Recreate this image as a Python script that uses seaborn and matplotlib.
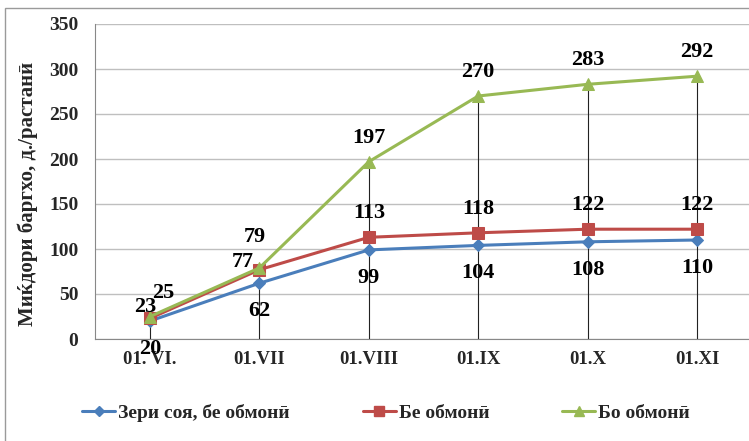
import matplotlib
matplotlib.use("Agg")
import matplotlib.pyplot as plt
import seaborn as sns
import pandas as pd
from matplotlib.patches import Rectangle
from matplotlib.lines import Line2D

# ---- data ----
categories = ["01. VI.", "01.VII", "01.VIII", "01.IX", "01.X", "01.XI"]
series_names = ["Зери соя, бе обмонӣ", "Бе обмонӣ", "Бо обмонӣ"]
soy_no_irrig = [20, 62, 99, 104, 108, 110]
no_irrig = [23, 77, 113, 118, 122, 122]
irrig = [25, 79, 197, 270, 283, 292]
y_label = "Миќдори баргхо, д./растанӣ"
y_ticks = [0, 50, 100, 150, 200, 250, 300, 350]

sns.set_theme(style="white")
plt.rcParams["font.family"] = ["Liberation Serif", "DejaVu Serif"]
plt.rcParams["font.weight"] = "bold"

colors = {series_names[0]: "#4A7EBB", series_names[1]: "#BE4B48", series_names[2]: "#98B954"}
markers = {series_names[0]: "D", series_names[1]: "s", series_names[2]: "^"}
msizes = {series_names[0]: 6.5, series_names[1]: 8.5, series_names[2]: 9}

rows = []
for name, vals in zip(series_names, [soy_no_irrig, no_irrig, irrig]):
    for i, v in enumerate(vals):
        rows.append({"x": i, "cat": categories[i], "value": v, "series": name})
df = pd.DataFrame(rows)

dpi = 100
fig = plt.figure(figsize=(7.49, 4.41), dpi=dpi)
W, H = 749, 441
ax = fig.add_axes([95 / W, 1 - 339 / H, (749 - 95) / W, (339 - 24) / H])

# figure border
fig.patches.append(Rectangle((5 / W, -0.05), 1.2, (441 - 8) / H + 0.05,
                             transform=fig.transFigure, fill=False,
                             edgecolor="#9a9a9a", linewidth=1.0, zorder=0))

# gridlines
for t in y_ticks:
    ax.axhline(t, color="#BFBFBF", linewidth=1.0, zorder=0)

# drop lines from top series
ax.vlines(range(len(categories)), 0, irrig, color="#222222", linewidth=0.8, zorder=1)

for name in series_names:
    sub = df[df["series"] == name]
    sns.lineplot(data=sub, x="x", y="value", ax=ax, color=colors[name],
                 marker=markers[name], markersize=msizes[name],
                 markeredgecolor=colors[name], linewidth=2.2, label=name,
                 zorder=3, legend=False)

# data labels (offsets in pixels)
offsets = {
    0: [(0, -28)] * 6,
    1: [(-5, 11), (-17, 8), (0, 24), (0, 24), (0, 24), (0, 24)],
    2: [(13, 24), (-5, 31), (0, 24), (0, 24), (0, 24), (0, 24)],
}
px2pt = 72 / dpi
for si, vals in enumerate([soy_no_irrig, no_irrig, irrig]):
    for i, v in enumerate(vals):
        dx, dy = offsets[si][i]
        ax.annotate(str(v), (i, v), xytext=(dx * px2pt, dy * px2pt),
                    textcoords="offset points", ha="center", va="center",
                    fontsize=16, fontweight="bold", color="black", zorder=5)

ax.set_xlim(-0.503, 5.475)
ax.set_ylim(0, 350)
ax.set_yticks(y_ticks)
ax.set_yticklabels([str(t) for t in y_ticks], fontsize=14, fontweight="bold")
ax.set_xticks(range(len(categories)))
ax.set_xticklabels(categories, fontsize=13.5, fontweight="bold")
ax.tick_params(axis="y", length=5, width=0.8, color="#888888", direction="out", pad=7)
ax.tick_params(axis="x", length=0, pad=9)
ax.set_xlabel("")
ax.set_ylabel(y_label, fontsize=15, fontweight="bold")
ax.yaxis.set_label_coords(-0.087, 0.46)

for side in ["top", "right"]:
    ax.spines[side].set_visible(False)
for side in ["left", "bottom"]:
    ax.spines[side].set_color("#888888")
    ax.spines[side].set_linewidth(0.8)

handles = [Line2D([0], [0], color=colors[n], marker=markers[n], markersize=msizes[n] * 0.8,
                  linewidth=2.2) for n in series_names]
fig.legend(handles, series_names, loc="center", bbox_to_anchor=(386 / W, 1 - 413 / H),
           ncol=3, frameon=False, handlelength=1.7, handletextpad=0.15,
           columnspacing=3.75, prop={"weight": "bold", "size": 14})

fig.savefig("out.png", dpi=dpi)
